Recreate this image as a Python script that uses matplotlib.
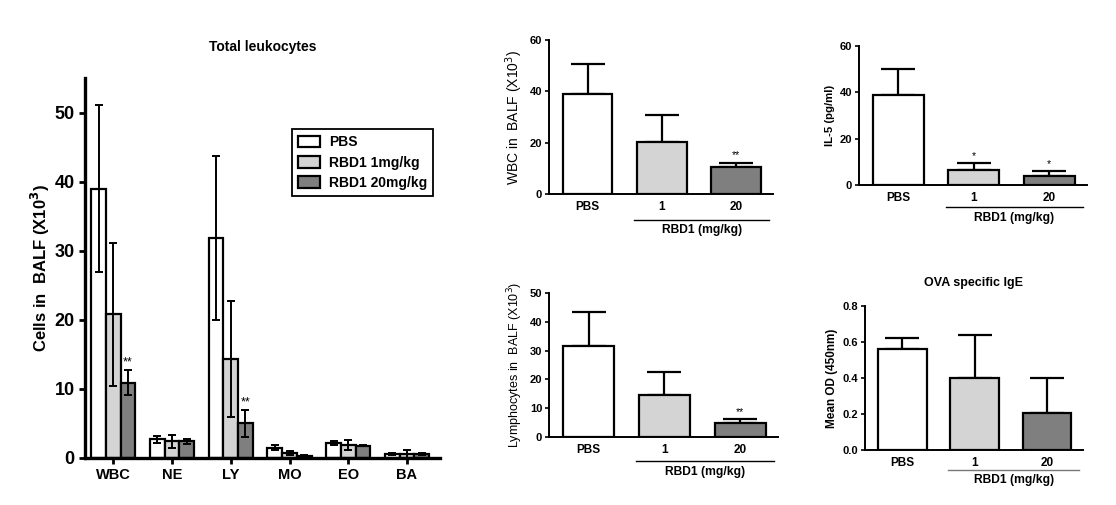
import matplotlib.pyplot as plt
import numpy as np

plt.rcParams['font.family'] = ['Liberation Sans', 'DejaVu Sans']

# Total leukocytes (left panel)
cell_types = ['WBC', 'NE', 'LY', 'MO', 'EO', 'BA']
pbs_mean = [39.0, 2.7, 31.9, 1.5, 2.2, 0.6]
pbs_err = [12.1, 0.5, 11.9, 0.4, 0.3, 0.1]
rbd1_low_mean = [20.8, 2.4, 14.4, 0.7, 1.9, 0.6]
rbd1_low_err = [10.4, 0.9, 8.4, 0.3, 0.7, 0.6]
rbd1_high_mean = [10.9, 2.4, 5.0, 0.3, 1.8, 0.6]
rbd1_high_err = [1.8, 0.4, 1.9, 0.1, 0.05, 0.1]
left_stars_high = ['**', '', '**', '', '', '']
group_labels = ['PBS', 'RBD1 1mg/kg', 'RBD1 20mg/kg']

# dose panels
doses = ['PBS', '1', '20']
wbc_mean = [38.8, 20.2, 10.4]
wbc_err = [12.0, 10.6, 1.8]
wbc_stars = ['', '', '**']
il5_mean = [38.8, 6.3, 3.9]
il5_err = [11.4, 3.0, 2.1]
il5_stars = ['', '*', '*']
lym_mean = [31.6, 14.5, 4.8]
lym_err = [11.7, 8.2, 1.5]
lym_stars = ['', '', '**']
ige_mean = [0.559, 0.402, 0.204]
ige_err = [0.065, 0.237, 0.194]
ige_stars = ['', '', '']

colors = ['white', '#d4d4d4', '#7f7f7f']


def draw_leukocytes(ax):
    x = np.arange(len(cell_types))
    w = 0.25
    sets = [(pbs_mean, pbs_err), (rbd1_low_mean, rbd1_low_err), (rbd1_high_mean, rbd1_high_err)]
    for i, (m, e) in enumerate(sets):
        xs = x + (i - 1) * w
        ax.bar(xs, m, w, color=colors[i], edgecolor='black', linewidth=1.6,
               label=group_labels[i], zorder=2)
        ax.errorbar(xs, m, yerr=e, fmt='none', ecolor='black', elinewidth=1.4,
                    capsize=2.6, capthick=1.4, zorder=3)
    for i, s in enumerate(left_stars_high):
        if s:
            top = rbd1_high_mean[i] + rbd1_high_err[i]
            ax.text(x[i] + w, top + 0.3, s, ha='center', va='bottom', fontsize=9)

    ax.set_xlim(-0.48, 5.56)
    ax.set_ylim(0, 55)
    ax.set_yticks([0, 10, 20, 30, 40, 50])
    ax.set_xticks(x)
    ax.set_xticklabels(cell_types, fontsize=10.5, fontweight='bold')
    for lab in ax.get_yticklabels():
        lab.set_fontsize(13)
        lab.set_fontweight('bold')
    ax.tick_params(axis='both', width=2, length=4, direction='out')
    ax.spines['top'].set_visible(False)
    ax.spines['right'].set_visible(False)
    ax.spines['left'].set_linewidth(2.4)
    ax.spines['bottom'].set_linewidth(2.4)
    ax.set_ylabel('Cells in  BALF (X10$^\\mathbf{3}$)', fontsize=12, fontweight='bold', labelpad=2)
    ax.set_title('Total leukocytes', fontsize=10, fontweight='bold', y=1.05)
    leg = ax.legend(loc='upper left', bbox_to_anchor=(0.583, 0.866), borderaxespad=0,
                    fancybox=False, edgecolor='black', framealpha=1,
                    prop={'weight': 'bold', 'size': 10},
                    handlelength=1.6, handleheight=0.9, handletextpad=0.6,
                    borderpad=0.45, labelspacing=0.45)
    leg.get_frame().set_linewidth(1.3)


def draw_dose_panel(ax, means, errs, stars, ylabel, ylim, yticks, fmt, label_bold,
                    ylabel_size, line_y, text_y, line_color='black', title=None):
    x = np.arange(len(doses))
    ax.bar(x, means, 0.67, color=colors, edgecolor='black', linewidth=1.6, zorder=2)
    ax.errorbar(x, means, yerr=[[0] * len(errs), errs], fmt='none', ecolor='black',
                elinewidth=1.6, capsize=12, capthick=1.6, zorder=1)
    span = ylim[1] - ylim[0]
    for i, s in enumerate(stars):
        if s:
            ax.text(x[i], means[i] + errs[i] + span * 0.015, s, ha='center', va='bottom',
                    fontsize=7.5)
    ax.set_xlim(-0.52, 2.5)
    ax.set_ylim(*ylim)
    ax.set_yticks(yticks)
    ax.set_yticklabels([fmt.format(v) for v in yticks], fontsize=8, fontweight='bold')
    ax.set_xticks(x)
    ax.set_xticklabels(doses, fontsize=8.5, fontweight='bold')
    ax.tick_params(axis='x', length=0, pad=5)
    ax.tick_params(axis='y', width=1.2, length=3, pad=2)
    ax.spines['top'].set_visible(False)
    ax.spines['right'].set_visible(False)
    ax.spines['left'].set_linewidth(1.4)
    ax.spines['bottom'].set_linewidth(1.4)
    ax.set_ylabel(ylabel, fontsize=ylabel_size, fontweight='bold' if label_bold else 'normal',
                  labelpad=3)
    tr = ax.get_xaxis_transform()
    ax.plot([0.63, 2.45], [line_y, line_y], transform=tr, clip_on=False,
            color=line_color, linewidth=1.0)
    ax.text(1.54, text_y, 'RBD1 (mg/kg)', transform=tr, ha='center', va='center',
            fontsize=8.7, fontweight='bold')
    if title:
        ax.set_title(title, fontsize=9, fontweight='bold', y=1.08)


fig = plt.figure(figsize=(11.16, 5.05), dpi=100)

ax_left = fig.add_axes([0.0762, 0.0931, 0.318, 0.752])
draw_leukocytes(ax_left)

ax_wbc = fig.add_axes([0.492, 0.6158, 0.2007, 0.305])
draw_dose_panel(ax_wbc, wbc_mean, wbc_err, wbc_stars, 'WBC in  BALF (X10$^3$)',
                (0, 60), [0, 20, 40, 60], '{:.0f}', False, 10, -0.169, -0.234)

ax_il5 = fig.add_axes([0.7697, 0.6337, 0.2043, 0.2752])
draw_dose_panel(ax_il5, il5_mean, il5_err, il5_stars, 'IL-5 (pg/ml)',
                (0, 60), [0, 20, 40, 60], '{:.0f}', True, 8.2, -0.158, -0.237)

ax_lym = fig.add_axes([0.492, 0.1347, 0.2052, 0.2851])
draw_dose_panel(ax_lym, lym_mean, lym_err, lym_stars, 'Lymphocytes in  BALF (X10$^3$)',
                (0, 50), [0, 10, 20, 30, 40, 50], '{:.0f}', False, 9, -0.167, -0.243)

ax_ige = fig.add_axes([0.775, 0.1089, 0.1953, 0.2851])
draw_dose_panel(ax_ige, ige_mean, ige_err, ige_stars, 'Mean OD (450nm)',
                (0, 0.8), [0.0, 0.2, 0.4, 0.6, 0.8], '{:.1f}', True, 8.5, -0.139, -0.208,
                line_color='#777777', title='OVA specific IgE')

fig.savefig('out.png', dpi=100)
